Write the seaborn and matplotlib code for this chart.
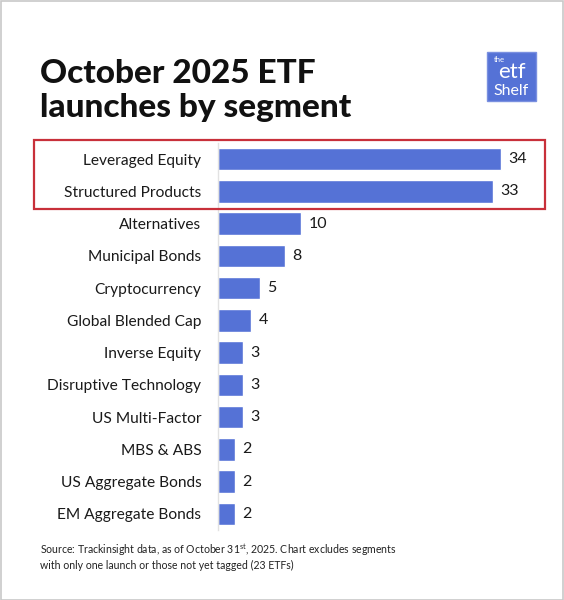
import pandas as pd
import matplotlib
matplotlib.use("Agg")
import matplotlib.pyplot as plt
import seaborn as sns
from matplotlib.patches import Rectangle

segments = ["Leveraged Equity", "Structured Products", "Alternatives", "Municipal Bonds",
            "Cryptocurrency", "Global Blended Cap", "Inverse Equity", "Disruptive Technology",
            "US Multi-Factor", "MBS & ABS", "US Aggregate Bonds", "EM Aggregate Bonds"]
launches = [34, 33, 10, 8, 5, 4, 3, 3, 3, 2, 2, 2]

BAR = "#5572d6"
W, H = 564, 600

sns.set_theme(style="white")
plt.rcParams["font.family"] = ["Lato", "DejaVu Sans"]
plt.rcParams["mathtext.fontset"] = "custom"
plt.rcParams["mathtext.rm"] = "Lato"

df = pd.DataFrame({"Segment": segments, "Launches": launches})

fig = plt.figure(figsize=(W / 100, H / 100), dpi=100)
fig.patch.set_facecolor("white")

# axes placed in pixel terms: left edge at bar start, top/bottom around the rows
ax = fig.add_axes([218 / W, 1 - 530 / H, (544 - 218) / W, 387 / H])
sns.barplot(data=df, x="Launches", y="Segment", color=BAR, width=0.7,
            saturation=1, ax=ax)
ax.set_xlim(0, 34 * 326 / 283)
ax.set_ylim(11.5, -0.5)
ax.set_xlabel("")
ax.set_ylabel("")
ax.set_xticks([])
ax.tick_params(axis="y", length=0, pad=12, labelsize=11.2, labelcolor="#1a1a1a")
for s in ["top", "right", "bottom"]:
    ax.spines[s].set_visible(False)
ax.spines["left"].set_color("#e2e2e2")
ax.spines["left"].set_linewidth(1)

for i, v in enumerate(launches):
    ax.text(v + 0.9, i, str(v), va="center", ha="left", fontsize=11.5, color="#1a1a1a")

# title
fig.text(40 / W, 1 - 59 / H, "October 2025 ETF\nlaunches by segment", ha="left", va="top",
         fontsize=24, fontweight="black", color="#111111", linespacing=1.2)

# logo
fig.patches.append(Rectangle((487 / W, 1 - 101 / H), 49 / W, 49 / H, transform=fig.transFigure,
                             facecolor=BAR, edgecolor="#7a90e0", linewidth=1))
fig.text(499 / W, 1 - 60 / H, "the", color="white", fontsize=5.5, ha="center", va="center")
fig.text(511.5 / W, 1 - 72 / H, "etf", color="white", fontsize=16, ha="center", va="center")
fig.text(511.5 / W, 1 - 91 / H, "Shelf", color="white", fontsize=11.5, ha="center", va="center")

# highlight box around the top two segments
fig.patches.append(Rectangle((34 / W, 1 - 209 / H), 511 / W, 69 / H, transform=fig.transFigure,
                             facecolor="none", edgecolor="#c8303a", linewidth=1.6))

# footnote
fig.text(40 / W, 1 - 542 / H,
         "Source: Trackinsight data, as of October 31$^{\\mathrm{st}}$, 2025. Chart excludes segments\n"
         "with only one launch or those not yet tagged (23 ETFs)",
         ha="left", va="top", fontsize=7.6, color="#222222", linespacing=1.2)

# thin frame around the whole image
fig.patches.append(Rectangle((0.5 / W, 0.5 / H), (W - 1.5) / W, (H - 1.5) / H,
                             transform=fig.transFigure, facecolor="none",
                             edgecolor="#c8c8c8", linewidth=1.2))

fig.savefig("out.png", dpi=100)
